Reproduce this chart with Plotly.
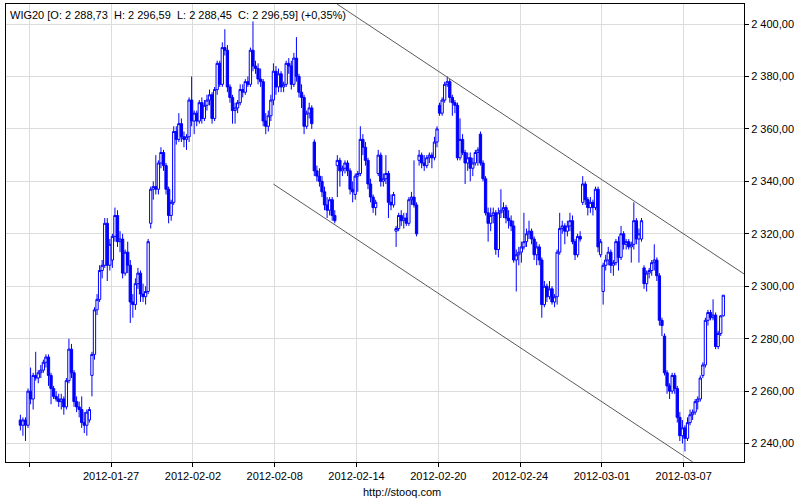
import plotly.graph_objects as go

# Trading sessions (first one is only partly visible)
trading_days = ["2012-01-20", "2012-01-23", "2012-01-24", "2012-01-25", "2012-01-26", "2012-01-27",
                "2012-01-30", "2012-01-31", "2012-02-01", "2012-02-02", "2012-02-03",
                "2012-02-06", "2012-02-07", "2012-02-08", "2012-02-09", "2012-02-10",
                "2012-02-13", "2012-02-14", "2012-02-15", "2012-02-16", "2012-02-17",
                "2012-02-20", "2012-02-21", "2012-02-22", "2012-02-23", "2012-02-24",
                "2012-02-27", "2012-02-28", "2012-02-29", "2012-03-01", "2012-03-02",
                "2012-03-05", "2012-03-06", "2012-03-07", "2012-03-08"]
bars_per_day = 8

# Hourly candles, one inner list per session
opens = [
    [2249, 2247, 2249, 2247],
    [2260, 2257, 2266, 2265, 2267, 2268, 2271, 2273],
    [2266, 2261, 2258, 2257, 2256, 2257, 2254, 2264],
    [2276, 2267, 2256, 2254, 2253, 2248, 2247, 2249],
    [2266, 2274, 2291, 2295, 2306, 2308, 2324, 2308],
    [2310, 2319, 2327, 2317, 2318, 2305, 2313, 2308],
    [2294, 2293, 2301, 2305, 2297, 2296, 2298, 2324],
    [2337, 2338, 2337, 2347, 2351, 2346, 2337, 2327],
    [2332, 2359, 2356, 2362, 2357, 2356, 2357, 2371],
    [2363, 2366, 2363, 2370, 2364, 2369, 2371, 2373],
    [2364, 2375, 2385, 2377, 2391, 2390, 2376, 2372],
    [2367, 2368, 2370, 2375, 2374, 2378, 2377, 2390],
    [2384, 2383, 2379, 2378, 2363, 2361, 2365, 2371],
    [2382, 2376, 2381, 2376, 2377, 2385, 2384, 2377],
    [2387, 2380, 2374, 2372, 2361, 2366, 2368, 2355],
    [2344, 2342, 2340, 2336, 2331, 2329, 2333, 2327],
    [2346, 2348, 2344, 2345, 2347, 2344, 2337, 2335],
    [2342, 2343, 2356, 2353, 2348, 2339, 2334, 2330],
    [2343, 2350, 2340, 2341, 2343, 2332, 2331, 2321],
    [2322, 2327, 2325, 2326, 2324, 2333, 2334, 2331],
    [2348, 2350, 2347, 2346, 2349, 2350, 2349, 2355],
    [2369, 2366, 2371, 2377, 2378, 2372, 2370, 2369],
    [2349, 2356, 2351, 2347, 2349, 2345, 2347, 2351],
    [2358, 2347, 2341, 2328, 2324, 2327, 2328, 2314],
    [2328, 2329, 2330, 2326, 2325, 2323, 2310, 2312],
    [2313, 2315, 2317, 2320, 2321, 2318, 2312, 2315],
    [2310, 2293, 2300, 2296, 2299, 2294, 2296, 2313],
    [2322, 2323, 2321, 2323, 2325, 2317, 2312, 2319],
    [2332, 2339, 2333, 2330, 2332, 2330, 2337, 2312],
    [2298, 2308, 2310, 2313, 2308, 2309, 2317, 2311],
    [2320, 2316, 2317, 2315, 2316, 2325, 2318, 2318],
    [2307, 2301, 2305, 2306, 2309, 2310, 2304, 2287],
    [2281, 2267, 2262, 2260, 2266, 2261, 2250, 2243],
    [2246, 2242, 2248, 2251, 2252, 2256, 2257, 2266],
    [2270, 2287, 2290, 2288, 2289, 2277, 2282, 2288.73],
]
highs = [
    [2251, 2250, 2250, 2261],
    [2269, 2267, 2275, 2268, 2270, 2272, 2274, 2274],
    [2267, 2262, 2260, 2259, 2259, 2258, 2265, 2280],
    [2278, 2268, 2258, 2256, 2258, 2252, 2253, 2254],
    [2275, 2292, 2297, 2308, 2310, 2326, 2326, 2318],
    [2320, 2330, 2329, 2321, 2320, 2314, 2317, 2310],
    [2297, 2303, 2307, 2306, 2301, 2300, 2318, 2338],
    [2340, 2350, 2348, 2353, 2352, 2347, 2338, 2333],
    [2361, 2361, 2366, 2364, 2359, 2358, 2372, 2380],
    [2367, 2367, 2371, 2372, 2371, 2373, 2375, 2374],
    [2376, 2386, 2386, 2393, 2398, 2392, 2377, 2373],
    [2370, 2371, 2377, 2377, 2379, 2380, 2391, 2401],
    [2386, 2385, 2383, 2379, 2366, 2367, 2373, 2385],
    [2384, 2383, 2382, 2378, 2386, 2387, 2386, 2389],
    [2395, 2381, 2377, 2373, 2367, 2370, 2369, 2356],
    [2346, 2345, 2342, 2338, 2334, 2334, 2334, 2329],
    [2350, 2349, 2346, 2348, 2348, 2345, 2340, 2343],
    [2344, 2361, 2358, 2355, 2349, 2341, 2335, 2333],
    [2352, 2351, 2343, 2350, 2344, 2335, 2336, 2323],
    [2328, 2329, 2328, 2328, 2334, 2336, 2348, 2332],
    [2352, 2351, 2350, 2350, 2351, 2351, 2357, 2361],
    [2370, 2372, 2378, 2380, 2379, 2373, 2371, 2370],
    [2364, 2358, 2352, 2351, 2351, 2349, 2352, 2353],
    [2359, 2348, 2342, 2330, 2330, 2330, 2329, 2330],
    [2337, 2332, 2331, 2329, 2327, 2325, 2314, 2315],
    [2317, 2328, 2322, 2325, 2322, 2319, 2317, 2316],
    [2311, 2302, 2301, 2302, 2300, 2297, 2314, 2328],
    [2325, 2324, 2325, 2328, 2327, 2318, 2320, 2321],
    [2342, 2340, 2334, 2334, 2333, 2338, 2338, 2318],
    [2309, 2312, 2315, 2314, 2310, 2318, 2319, 2323],
    [2321, 2318, 2318, 2317, 2332, 2326, 2322, 2326],
    [2308, 2306, 2307, 2310, 2316, 2311, 2305, 2288],
    [2282, 2268, 2263, 2267, 2267, 2262, 2252, 2249],
    [2247, 2250, 2253, 2253, 2257, 2258, 2266, 2271],
    [2288, 2291, 2291, 2295, 2290, 2283, 2289, 2296.59],
]
lows = [
    [2245, 2243, 2241, 2246],
    [2255, 2253, 2264, 2263, 2265, 2267, 2269, 2262],
    [2255, 2257, 2256, 2254, 2253, 2251, 2253, 2263],
    [2265, 2254, 2252, 2250, 2246, 2244, 2243, 2248],
    [2258, 2272, 2289, 2294, 2303, 2307, 2302, 2306],
    [2307, 2317, 2315, 2313, 2303, 2304, 2305, 2286],
    [2288, 2291, 2299, 2294, 2294, 2293, 2297, 2322],
    [2333, 2335, 2335, 2345, 2344, 2335, 2324, 2325],
    [2331, 2354, 2355, 2355, 2353, 2352, 2355, 2361],
    [2358, 2361, 2362, 2362, 2363, 2367, 2369, 2362],
    [2363, 2373, 2376, 2376, 2388, 2374, 2370, 2362],
    [2362, 2366, 2369, 2372, 2373, 2376, 2376, 2382],
    [2381, 2377, 2376, 2361, 2358, 2359, 2363, 2369],
    [2373, 2374, 2374, 2374, 2376, 2381, 2375, 2376],
    [2378, 2372, 2368, 2358, 2360, 2364, 2360, 2342],
    [2340, 2338, 2334, 2329, 2326, 2327, 2325, 2324],
    [2334, 2338, 2342, 2343, 2342, 2335, 2332, 2333],
    [2336, 2342, 2350, 2346, 2337, 2332, 2328, 2327],
    [2342, 2338, 2338, 2339, 2326, 2329, 2330, 2315],
    [2321, 2323, 2322, 2323, 2323, 2331, 2330, 2319],
    [2346, 2345, 2344, 2345, 2347, 2345, 2348, 2353],
    [2365, 2365, 2370, 2376, 2370, 2365, 2366, 2348],
    [2348, 2350, 2339, 2344, 2340, 2342, 2346, 2346],
    [2346, 2340, 2327, 2317, 2321, 2324, 2312, 2311],
    [2326, 2326, 2324, 2322, 2321, 2309, 2298, 2308],
    [2309, 2314, 2315, 2318, 2316, 2310, 2308, 2308],
    [2288, 2292, 2294, 2295, 2293, 2292, 2293, 2312],
    [2320, 2316, 2319, 2321, 2316, 2310, 2311, 2317],
    [2331, 2331, 2327, 2328, 2327, 2329, 2313, 2311],
    [2293, 2306, 2308, 2305, 2304, 2308, 2306, 2310],
    [2314, 2314, 2314, 2309, 2314, 2316, 2309, 2317],
    [2299, 2298, 2303, 2304, 2306, 2302, 2285, 2281],
    [2266, 2259, 2257, 2259, 2259, 2248, 2241, 2240],
    [2237, 2241, 2247, 2249, 2251, 2253, 2256, 2265],
    [2269, 2285, 2287, 2287, 2276, 2276, 2281, 2288.45],
]
closes = [
    [2247, 2249, 2247, 2260],
    [2257, 2266, 2265, 2267, 2268, 2271, 2273, 2266],
    [2261, 2258, 2257, 2256, 2257, 2254, 2264, 2276],
    [2267, 2256, 2254, 2253, 2248, 2247, 2252, 2253],
    [2274, 2291, 2295, 2306, 2308, 2324, 2308, 2316],
    [2319, 2327, 2317, 2318, 2305, 2313, 2308, 2294],
    [2293, 2301, 2305, 2297, 2296, 2298, 2317, 2337],
    [2338, 2337, 2347, 2351, 2346, 2337, 2327, 2332],
    [2359, 2356, 2362, 2357, 2356, 2357, 2371, 2363],
    [2366, 2363, 2370, 2364, 2369, 2371, 2373, 2364],
    [2375, 2385, 2377, 2391, 2390, 2376, 2372, 2367],
    [2368, 2370, 2375, 2374, 2378, 2377, 2390, 2384],
    [2383, 2379, 2378, 2363, 2361, 2365, 2371, 2382],
    [2376, 2381, 2376, 2377, 2385, 2384, 2377, 2387],
    [2380, 2374, 2372, 2361, 2366, 2368, 2362, 2344],
    [2342, 2340, 2336, 2331, 2329, 2333, 2327, 2325],
    [2348, 2344, 2345, 2347, 2344, 2337, 2336, 2342],
    [2343, 2356, 2353, 2348, 2339, 2334, 2330, 2332],
    [2350, 2340, 2341, 2343, 2332, 2331, 2335, 2322],
    [2327, 2325, 2326, 2324, 2333, 2334, 2331, 2320],
    [2350, 2347, 2346, 2349, 2350, 2349, 2355, 2360],
    [2366, 2371, 2377, 2378, 2372, 2370, 2369, 2349],
    [2356, 2351, 2347, 2349, 2345, 2347, 2351, 2352],
    [2347, 2341, 2328, 2324, 2327, 2328, 2314, 2328],
    [2329, 2330, 2326, 2325, 2323, 2310, 2312, 2313],
    [2315, 2317, 2320, 2321, 2318, 2312, 2315, 2310],
    [2293, 2300, 2296, 2299, 2294, 2296, 2313, 2322],
    [2323, 2321, 2323, 2325, 2317, 2312, 2319, 2318],
    [2339, 2333, 2330, 2332, 2330, 2337, 2315, 2317],
    [2308, 2310, 2313, 2308, 2309, 2317, 2311, 2320],
    [2316, 2317, 2315, 2316, 2325, 2318, 2320, 2325],
    [2301, 2305, 2306, 2309, 2310, 2304, 2287, 2285],
    [2267, 2262, 2260, 2266, 2261, 2250, 2243, 2246],
    [2242, 2248, 2251, 2252, 2256, 2257, 2265, 2270],
    [2287, 2290, 2288, 2289, 2277, 2282, 2288.7, 2296.59],
]

# Axis labels
tick_dates = ["2012-01-23", "2012-01-27", "2012-02-02", "2012-02-08", "2012-02-14",
              "2012-02-20", "2012-02-24", "2012-03-01", "2012-03-07"]
tick_labels = ["", "2012-01-27", "2012-02-02", "2012-02-08", "2012-02-14",
               "2012-02-20", "2012-02-24", "2012-03-01", "2012-03-07"]
y_ticks = [2240, 2260, 2280, 2300, 2320, 2340, 2360, 2380, 2400]
y_labels = ["2 240,00", "2 260,00", "2 280,00", "2 300,00", "2 320,00",
            "2 340,00", "2 360,00", "2 380,00", "2 400,00"]

# Trend channel anchor points (session index, value)
upper_channel = [(15.05, 2407.6), (34.95, 2304.7)]
lower_channel = [(11.93, 2339.0), (32.44, 2233.0)]

title_text = "WIG20 [O: 2 288,73  H: 2 296,59  L: 2 288,45  C: 2 296,59] (+0,35%)"
source_text = "http://stooq.com"

# ---- build series: x = session index (01-23 -> 0) plus intraday fraction
day0 = trading_days.index("2012-01-23")
xs, o, h, l, c = [], [], [], [], []
for i, day in enumerate(trading_days):
    n = len(closes[i])
    first = bars_per_day - n
    for j in range(n):
        xs.append(i - day0 + (first + j + 0.5) / bars_per_day)
        o.append(opens[i][j]); h.append(highs[i][j]); l.append(lows[i][j]); c.append(closes[i][j])

tickvals = [trading_days.index(d) - day0 for d in tick_dates]

BLUE = "#0000ff"
FONT = "Liberation Sans, Arial, sans-serif"

fig = go.Figure()
fig.add_trace(go.Candlestick(
    x=xs, open=o, high=h, low=l, close=c,
    increasing=dict(line=dict(color=BLUE, width=1), fillcolor="white"),
    decreasing=dict(line=dict(color=BLUE, width=1), fillcolor=BLUE),
    whiskerwidth=0, showlegend=False, hoverinfo="skip",
))

for (x0, y0), (x1, y1) in [upper_channel, lower_channel]:
    fig.add_shape(type="line", x0=x0, y0=y0, x1=x1, y1=y1, xref="x", yref="y",
                  line=dict(color="#5a5a5a", width=1))

fig.add_annotation(text=title_text.replace(" ", "\u00a0"), xref="paper", yref="paper",
                   x=0, y=1, xanchor="left", yanchor="top", xshift=2, yshift=-3,
                   showarrow=False, font=dict(family=FONT, size=11, color="black"))
fig.add_annotation(text=source_text, xref="paper", yref="paper",
                   x=0.537, y=-0.066, xanchor="center", yanchor="middle",
                   showarrow=False, font=dict(family=FONT, size=11, color="black"))

fig.update_layout(
    width=800, height=500,
    margin=dict(l=6, r=56, t=4, b=38),
    paper_bgcolor="white", plot_bgcolor="white",
    font=dict(family=FONT, size=11, color="black"),
    boxgap=0.1, boxgroupgap=0,
    showlegend=False,
    xaxis=dict(
        range=[-1.14, 34.95], tickmode="array", tickvals=tickvals, ticktext=tick_labels,
        showgrid=True, gridcolor="#dcdcdc", gridwidth=1, zeroline=False,
        showline=True, linecolor="black", linewidth=1, mirror=True,
        ticks="outside", ticklen=4, tickcolor="black",
        rangeslider=dict(visible=False), fixedrange=True,
    ),
    yaxis=dict(
        side="right", range=[2232.98, 2407.63], tickmode="array",
        tickvals=y_ticks, ticktext=y_labels,
        showgrid=True, gridcolor="#dcdcdc", gridwidth=1, zeroline=False,
        showline=True, linecolor="black", linewidth=1, mirror=True,
        ticks="outside", ticklen=4, tickcolor="black", fixedrange=True,
    ),
)

fig.write_html("out.html", config={"displayModeBar": False},
               post_script="document.body.style.margin='0';document.body.style.overflow='hidden';")
